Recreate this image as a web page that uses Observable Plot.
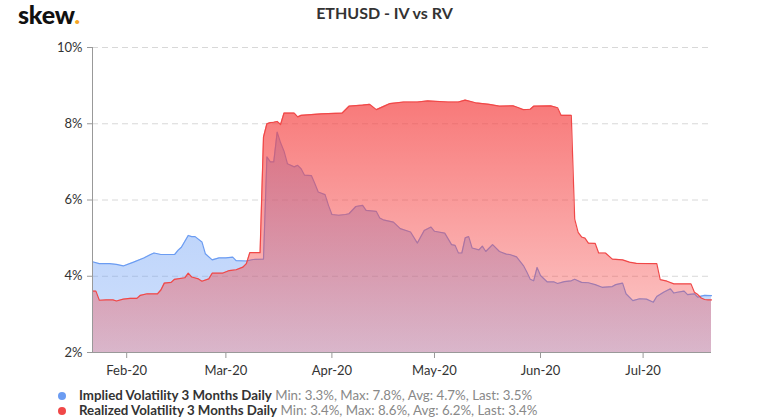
<!DOCTYPE html>
<html><head><meta charset="utf-8">
<script src="https://cdn.jsdelivr.net/npm/d3@7"></script>
<script src="https://cdn.jsdelivr.net/npm/@observablehq/plot@0.6"></script>
<style>
body{margin:0;background:#fff;font-family:Lato,"Open Sans",sans-serif;}
#wrap{position:relative;width:761px;height:419px;overflow:hidden;background:#fff}
#head{position:relative;height:30px}
#logo{position:absolute;left:18px;top:1px;font-weight:900;font-size:25px;line-height:26px;color:#111;letter-spacing:-0.2px}
#logo span{color:#f5a623}
#title{position:absolute;left:4px;width:761px;text-align:center;top:4px;font-weight:700;font-size:16px;line-height:18px;color:#333}
#chart svg{display:block}
#legend{position:absolute;left:0;top:388px;width:761px;font-size:13.3px;line-height:14.5px}
.row{position:relative;height:14.5px;padding-left:79px;white-space:nowrap}
.dot{position:absolute;left:58px;top:4px;width:8px;height:8px;border-radius:50%}
.name{font-weight:700;color:#333}
.stat{color:#888}
</style>
</head><body>
<div id="wrap">
  <div id="head"><div id="logo">skew<span>.</span></div><div id="title"></div></div>
  <div id="chart"></div>
  <div id="legend"></div>
</div>
<script>
const chartTitle = "ETHUSD - IV vs RV";
const seriesNames = ["Implied Volatility 3 Months Daily", "Realized Volatility 3 Months Daily"];
const seriesColors = ["#6b9cf2", "#f04848"];
const statMin = [3.3, 3.4];
const statMax = [7.8, 8.6];
const statAvg = [4.7, 6.2];
const statLast = [3.5, 3.4];
const yTicks = [2, 4, 6, 8, 10];
const monthTicks = ["2020-02-01","2020-03-01","2020-04-01","2020-05-01","2020-06-01","2020-07-01"];
const xDomain = ["2020-01-22", "2020-07-21"];

const ivDates = ["2020-01-22","2020-01-24","2020-01-27","2020-01-29","2020-01-31","2020-02-03","2020-02-06","2020-02-08","2020-02-09","2020-02-11","2020-02-15","2020-02-16","2020-02-17","2020-02-19","2020-02-20","2020-02-21","2020-02-23","2020-02-24","2020-02-26","2020-02-28","2020-03-01","2020-03-03","2020-03-04","2020-03-07","2020-03-09","2020-03-12","2020-03-13","2020-03-14","2020-03-15","2020-03-16","2020-03-17","2020-03-18","2020-03-19","2020-03-21","2020-03-22","2020-03-23","2020-03-24","2020-03-26","2020-03-27","2020-03-28","2020-03-30","2020-03-31","2020-04-01","2020-04-03","2020-04-05","2020-04-06","2020-04-08","2020-04-10","2020-04-11","2020-04-14","2020-04-15","2020-04-16","2020-04-19","2020-04-21","2020-04-24","2020-04-26","2020-04-28","2020-04-30","2020-05-01","2020-05-04","2020-05-06","2020-05-07","2020-05-08","2020-05-09","2020-05-10","2020-05-11","2020-05-12","2020-05-14","2020-05-15","2020-05-16","2020-05-18","2020-05-20","2020-05-22","2020-05-23","2020-05-25","2020-05-27","2020-05-28","2020-05-29","2020-05-30","2020-05-31","2020-06-01","2020-06-03","2020-06-05","2020-06-06","2020-06-08","2020-06-10","2020-06-11","2020-06-13","2020-06-15","2020-06-17","2020-06-19","2020-06-22","2020-06-23","2020-06-25","2020-06-26","2020-06-28","2020-06-30","2020-07-02","2020-07-04","2020-07-05","2020-07-07","2020-07-09","2020-07-10","2020-07-11","2020-07-13","2020-07-14","2020-07-16","2020-07-17","2020-07-18","2020-07-19","2020-07-21"];
const ivValues = [4.38,4.33,4.33,4.31,4.27,4.37,4.48,4.57,4.61,4.57,4.57,4.68,4.76,5.07,5.04,5.04,4.90,4.59,4.43,4.48,4.48,4.50,4.41,4.40,4.44,4.45,7.13,7.00,7.00,7.78,7.50,7.28,6.95,6.87,6.91,6.82,6.65,6.64,6.43,6.21,6.14,5.86,5.62,5.60,5.62,5.64,5.83,5.86,5.73,5.70,5.53,5.48,5.42,5.25,5.16,4.87,5.20,5.29,5.18,5.13,4.83,4.81,4.61,4.61,5.01,5.04,4.74,4.69,4.79,4.65,4.83,4.65,4.58,4.57,4.51,4.28,4.11,3.92,3.88,4.23,4.02,3.85,3.85,3.81,3.86,3.88,3.92,3.84,3.83,3.78,3.71,3.73,3.78,3.82,3.54,3.36,3.41,3.40,3.32,3.47,3.58,3.67,3.56,3.58,3.61,3.52,3.54,3.45,3.48,3.50,3.49];

const rvDates = ["2020-01-22","2020-01-23","2020-01-24","2020-01-26","2020-01-28","2020-01-29","2020-01-31","2020-02-02","2020-02-04","2020-02-05","2020-02-07","2020-02-10","2020-02-11","2020-02-12","2020-02-14","2020-02-15","2020-02-18","2020-02-19","2020-02-20","2020-02-22","2020-02-23","2020-02-25","2020-02-26","2020-02-29","2020-03-02","2020-03-04","2020-03-06","2020-03-07","2020-03-08","2020-03-11","2020-03-12","2020-03-13","2020-03-14","2020-03-15","2020-03-16","2020-03-17","2020-03-18","2020-03-21","2020-03-22","2020-03-23","2020-03-29","2020-04-04","2020-04-06","2020-04-10","2020-04-12","2020-04-14","2020-04-16","2020-04-18","2020-04-22","2020-04-26","2020-04-29","2020-05-05","2020-05-08","2020-05-10","2020-05-13","2020-05-17","2020-05-20","2020-05-24","2020-05-25","2020-05-27","2020-05-29","2020-05-30","2020-06-04","2020-06-06","2020-06-07","2020-06-10","2020-06-11","2020-06-12","2020-06-13","2020-06-14","2020-06-15","2020-06-17","2020-06-18","2020-06-20","2020-06-22","2020-06-25","2020-06-27","2020-06-29","2020-07-05","2020-07-06","2020-07-08","2020-07-10","2020-07-15","2020-07-16","2020-07-17","2020-07-18","2020-07-19","2020-07-20","2020-07-21"];
const rvValues = [3.61,3.61,3.37,3.38,3.38,3.35,3.40,3.42,3.42,3.50,3.54,3.54,3.64,3.82,3.84,3.92,3.96,4.08,3.98,3.93,3.87,3.93,4.08,4.08,4.15,4.17,4.24,4.33,4.62,4.62,7.65,8.00,8.03,8.04,8.06,7.98,8.28,8.28,8.18,8.22,8.26,8.28,8.46,8.49,8.51,8.37,8.45,8.53,8.57,8.57,8.60,8.57,8.57,8.62,8.55,8.51,8.46,8.47,8.44,8.37,8.38,8.46,8.47,8.42,8.22,8.22,5.50,5.15,5.03,5.00,4.87,4.86,4.61,4.61,4.45,4.43,4.37,4.34,4.33,3.91,3.87,3.80,3.80,3.58,3.52,3.43,3.39,3.38,3.38];

const parse = d3.utcParse("%Y-%m-%d");
const iv = ivDates.map((d, i) => ({date: parse(d), value: ivValues[i]}));
const rv = rvDates.map((d, i) => ({date: parse(d), value: rvValues[i]}));
const x0 = parse(xDomain[0]), x1 = parse(xDomain[1]);
const yMin = yTicks[0];

document.getElementById("title").textContent = chartTitle;

const chart = Plot.plot({
  width: 761, height: 350,
  marginTop: 17, marginBottom: 28, marginLeft: 92, marginRight: 50,
  style: {fontFamily: "Lato, sans-serif", fontSize: "13px", color: "#333", background: "#fff", overflow: "visible"},
  x: {type: "utc", domain: [x0, x1], ticks: monthTicks.map(parse), tickFormat: d3.utcFormat("%b-%y"), label: null, tickSize: 6, tickPadding: 7},
  y: {domain: [yTicks[0], yTicks[yTicks.length - 1]], ticks: yTicks, tickFormat: d => d + "%", label: null, tickSize: 5, tickPadding: 5},
  marks: [
    Plot.ruleY(yTicks.slice(1), {stroke: "#d8d8d8", strokeDasharray: "6,4"}),
    Plot.areaY(iv, {x: "date", y1: yMin, y2: "value", fill: "url(#gBlue)"}),
    Plot.lineY(iv, {x: "date", y: "value", stroke: seriesColors[0], strokeWidth: 1.2}),
    Plot.areaY(rv, {x: "date", y1: yMin, y2: "value", fill: "url(#gRed)"}),
    Plot.lineY(rv, {x: "date", y: "value", stroke: seriesColors[1], strokeWidth: 1.2}),
    Plot.ruleX([x0], {stroke: "#999"}),
    Plot.ruleY([yMin], {stroke: "#999"})
  ]
});

const ys = chart.scale("y");
const top10 = ys.apply(yTicks[yTicks.length - 1]), bot2 = ys.apply(yMin);
const defs = d3.select(chart).insert("defs", ":first-child");
const gb = defs.append("linearGradient").attr("id", "gBlue").attr("gradientUnits", "userSpaceOnUse")
  .attr("x1", 0).attr("x2", 0).attr("y1", top10).attr("y2", bot2);
gb.append("stop").attr("offset", 0).attr("stop-color", "rgb(110,160,245)").attr("stop-opacity", 0.62);
gb.append("stop").attr("offset", 1).attr("stop-color", "rgb(110,160,245)").attr("stop-opacity", 0.33);
const gr = defs.append("linearGradient").attr("id", "gRed").attr("gradientUnits", "userSpaceOnUse")
  .attr("x1", 0).attr("x2", 0).attr("y1", top10).attr("y2", bot2);
gr.append("stop").attr("offset", 0).attr("stop-color", "rgb(245,70,70)").attr("stop-opacity", 0.82);
gr.append("stop").attr("offset", 1).attr("stop-color", "rgb(245,70,70)").attr("stop-opacity", 0.27);

d3.select(chart).selectAll('g[aria-label="x-axis tick"], g[aria-label="y-axis tick"]').attr("stroke", "#999");
d3.select(chart).selectAll('g[aria-label$="axis"] .tick line').attr("stroke", "#999");

document.getElementById("chart").appendChild(chart);

const legend = d3.select("#legend");
seriesNames.forEach((name, i) => {
  const row = legend.append("div").attr("class", "row");
  row.append("span").attr("class", "dot").style("background", seriesColors[i]);
  row.append("span").attr("class", "name").text(name);
  row.append("span").attr("class", "stat").text(` Min: ${statMin[i]}%, Max: ${statMax[i]}%, Avg: ${statAvg[i]}%, Last: ${statLast[i]}%`);
});
</script>
</body></html>
